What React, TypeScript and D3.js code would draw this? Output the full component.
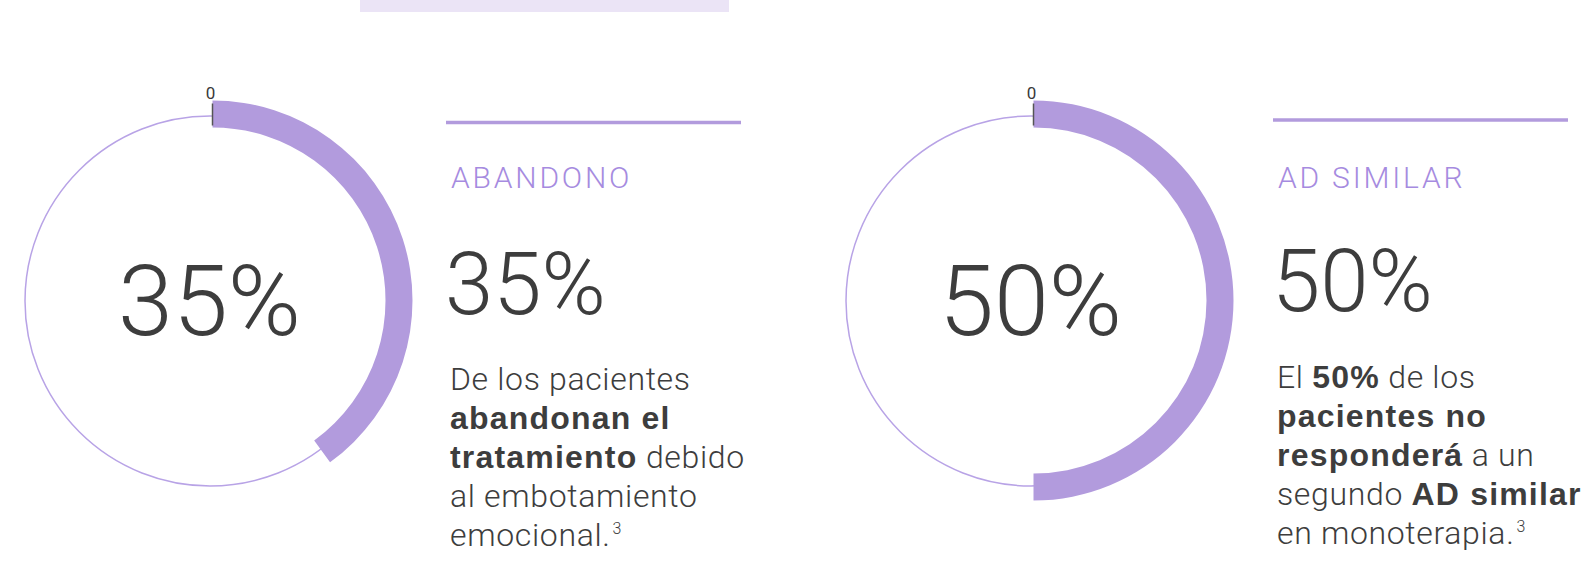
import React from 'react';
import * as d3 from 'd3';

// ---- data ----
const gaugeIds = ['abandono', 'adSimilar'];
const gaugeArcValues = [40, 50]; // extent of the filled arc (scale 0–100)
const gaugeScaleMin = 0;
const gaugeScaleMax = 100;
const gaugeTickLabels = ['0', '0'];
const centerLabels = ['35%', '50%'];
const headings = ['ABANDONO', 'AD SIMILAR'];
const bigLabels = ['35%', '50%'];
type Seg = { t: string; b?: boolean; sup?: boolean };
const bodyTexts: Seg[][][] = [
  [
    [{ t: 'De los pacientes' }],
    [{ t: 'abandonan el', b: true }],
    [{ t: 'tratamiento', b: true }, { t: ' debido' }],
    [{ t: 'al embotamiento' }],
    [{ t: 'emocional.' }, { t: '3', sup: true }],
  ],
  [
    [{ t: 'El ' }, { t: '50%', b: true }, { t: ' de los' }],
    [{ t: 'pacientes no', b: true }],
    [{ t: 'responderá', b: true }, { t: ' a un' }],
    [{ t: 'segundo ' }, { t: 'AD similar', b: true }],
    [{ t: 'en monoterapia.' }, { t: '3', sup: true }],
  ],
];

const W = 1584;
const H = 567;
const PURPLE = '#b29bdd';
const THIN = '#b8a3e6';
const HEAD = '#a68be0';
const DARK = '#3d3d3d';
const FONT = 'Roboto, "Liberation Sans", Arial, sans-serif';
const BOLD_FONT = '"Liberation Sans", Arial, sans-serif';

export default function App() {
  const angle = d3.scaleLinear().domain([gaugeScaleMin, gaugeScaleMax]).range([0, 2 * Math.PI]);
  const gaugeX = d3.scalePoint<string>().domain(gaugeIds).range([212.5, 1033.5]);
  const panelX = d3.scalePoint<string>().domain(gaugeIds).range([446, 1273]);
  const cy = 300.5;
  const R = 200;
  const r = 173;
  const arc = d3.arc<any>().innerRadius(r).outerRadius(R).startAngle(0);
  const lineH = 39;

  return (
    <svg width={W} height={H} style={{ position: 'absolute', left: 0, top: 0 }} fontFamily={FONT}>
      <rect x={0} y={0} width={W} height={H} fill="#fff" />
      <rect x={360} y={0} width={369} height={12} fill="#ebe4f6" />
      {gaugeIds.map((id, i) => {
        const cx = gaugeX(id)!;
        const px = panelX(id)!;
        return (
          <g key={id}>
            <circle cx={cx - 2.5} cy={cy + 0.5} r={185} fill="none" stroke={THIN} strokeWidth={1.5} />
            <path
              transform={`translate(${cx},${cy})`}
              d={arc({ endAngle: angle(gaugeArcValues[i]) }) || ''}
              fill={PURPLE}
            />
            <line x1={cx} x2={cx} y1={cy - R + 3} y2={cy - r - 2} stroke="#555" strokeWidth={1.5} />
            <text x={cx - 2} y={98.5} fontSize={17} fill="#3a3a3a" textAnchor="middle">
              {gaugeTickLabels[i]}
            </text>
            <text x={cx - 3} y={335} fontSize={99} fontWeight={300} fill={DARK} textAnchor="middle">
              {centerLabels[i]}
            </text>
            <line x1={px} x2={px + 295} y1={i === 0 ? 122.5 : 120} y2={i === 0 ? 122.5 : 120} stroke={PURPLE} strokeWidth={3.5} />
            <text x={px + 5} y={188} fontSize={30} fontWeight={300} letterSpacing={2.8} fill={HEAD}>
              {headings[i]}
            </text>
            <text x={px - 1} y={i === 0 ? 314 : 311} fontSize={87} fontWeight={300} fill={DARK}>
              {bigLabels[i]}
            </text>
            {bodyTexts[i].map((line, li) => (
              <text key={li} x={px + 4} y={390 + li * lineH - (i === 0 ? 0 : 2)} fontSize={32} fill={DARK}>
                {line.map((s, si) =>
                  s.sup ? (
                    <tspan key={si} fontSize={16} dy={-12} dx={2} fontWeight={300}>
                      {s.t}
                    </tspan>
                  ) : s.b ? (
                    <tspan key={si} fontWeight={700} fontFamily={BOLD_FONT} letterSpacing={1.2}>
                      {s.t}
                    </tspan>
                  ) : (
                    <tspan key={si} fontWeight={300} letterSpacing={0.65}>
                      {s.t}
                    </tspan>
                  )
                )}
              </text>
            ))}
          </g>
        );
      })}
    </svg>
  );
}
